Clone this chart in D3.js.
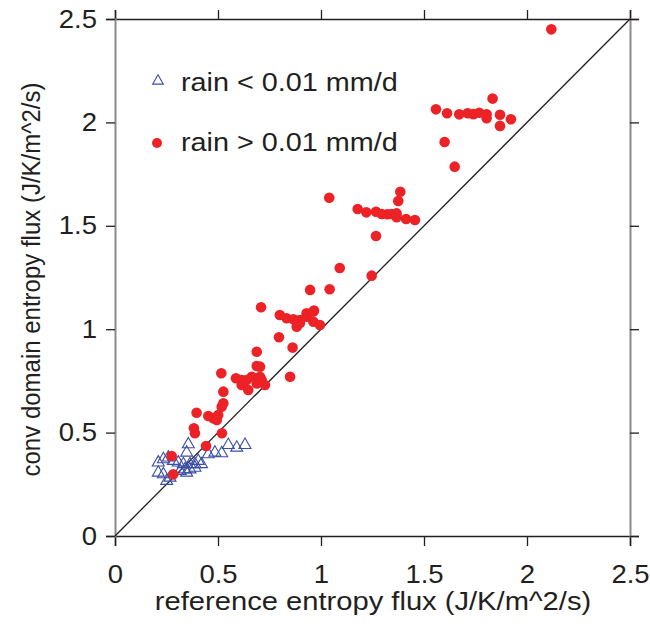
<!DOCTYPE html>
<html>
<head>
<meta charset="utf-8">
<script src="https://cdn.jsdelivr.net/npm/d3@7"></script>
<style>
  body { margin: 0; background: #fff; }
  text { font-family: "Liberation Sans", Arial, sans-serif; fill: #231f20; }
</style>
</head>
<body>
<div id="chart"></div>
<script>
// rain < 0.01 mm/d (triangles)
var dryX = [0.356, 0.55, 0.631, 0.591, 0.485, 0.518, 0.453, 0.348, 0.21, 0.235, 0.259, 0.283, 0.307,
            0.332, 0.364, 0.388, 0.404, 0.42, 0.21, 0.235, 0.267, 0.251, 0.316, 0.34, 0.364, 0.388, 0.348];
var dryY = [0.448, 0.445, 0.445, 0.432, 0.408, 0.405, 0.40, 0.408, 0.36, 0.376, 0.384, 0.368, 0.36,
            0.352, 0.352, 0.352, 0.368, 0.352, 0.311, 0.303, 0.287, 0.271, 0.319, 0.327, 0.327, 0.335, 0.311];

// rain > 0.01 mm/d (dots)
var wetX = [2.118, 1.833, 1.60, 1.649, 1.558, 1.612, 1.671, 1.712, 1.74, 1.768, 1.804, 1.804, 1.869, 1.869, 1.922,
            1.04, 1.385, 1.375, 1.178, 1.22, 1.267, 1.295, 1.322, 1.343, 1.367, 1.367, 1.413, 1.456, 1.267,
            1.091, 1.246, 0.947, 1.042, 0.966, 0.93, 0.898, 0.963, 0.995,
            0.709, 0.80, 0.833, 0.866, 0.898, 0.93, 0.963, 0.882, 0.796, 0.862, 0.688, 0.688, 0.704, 0.516, 0.85,
            0.587, 0.615, 0.664, 0.704, 0.712, 0.615, 0.647, 0.728, 0.688, 0.639,
            0.526, 0.526, 0.518, 0.396, 0.453, 0.477, 0.501, 0.494, 0.383, 0.388, 0.519, 0.442, 0.275, 0.283];
var wetY = [2.45, 2.115, 1.905, 1.786, 2.063, 2.044, 2.039, 2.044, 2.04, 2.047, 2.039, 2.02, 2.037, 1.983, 2.015,
            1.636, 1.665, 1.62, 1.581, 1.565, 1.568, 1.557, 1.556, 1.557, 1.56, 1.541, 1.533, 1.528, 1.451,
            1.296, 1.259, 1.19, 1.193, 1.09, 1.06, 1.03, 1.036, 1.02,
            1.106, 1.069, 1.053, 1.048, 1.044, 1.077, 1.085, 1.012, 0.961, 0.911, 0.891, 0.822, 0.819, 0.787, 0.77,
            0.763, 0.754, 0.77, 0.77, 0.754, 0.73, 0.706, 0.73, 0.738, 0.754,
            0.698, 0.642, 0.625, 0.596, 0.58, 0.569, 0.585, 0.561, 0.521, 0.497, 0.497, 0.435, 0.387, 0.298];

var ticks = [0, 0.5, 1, 1.5, 2, 2.5];
var legendLabels = ["rain < 0.01 mm/d", "rain > 0.01 mm/d"];

var margin = { top: 19, left: 115, right: 20, bottom: 91 },
    width = 650, height = 627,
    innerW = width - margin.left - margin.right,
    innerH = height - margin.top - margin.bottom,
    stretch = 1.1;   // the reference type is a bit wider than it is tall

var svg = d3.select("#chart").append("svg")
    .attr("width", width)
    .attr("height", height);

var g = svg.append("g")
    .attr("transform", "translate(" + margin.left + "," + margin.top + ")");

var xScale = d3.scaleLinear().domain([0, 2.5]).range([0, innerW]);
var yScale = d3.scaleLinear().domain([0, 2.5]).range([innerH, 0]);

var fmt = function(d){ return d3.format("")(d); };

// axes on all four sides, ticks outward
var xAxisB = d3.axisBottom(xScale).tickValues(ticks).tickSize(10).tickPadding(19).tickFormat(fmt);
var xAxisT = d3.axisTop(xScale).tickValues(ticks).tickSize(9).tickFormat("");
var yAxisL = d3.axisLeft(yScale).tickValues(ticks).tickSize(9).tickFormat(fmt);
var yAxisR = d3.axisRight(yScale).tickValues(ticks).tickSize(9).tickFormat("");

function styleAxis(sel, lineColor, lineW){
  sel.select(".domain").attr("stroke", lineColor).attr("stroke-width", lineW);
  sel.selectAll(".tick line").attr("stroke", "#231f20").attr("stroke-width", 1.3);
  sel.selectAll(".tick text").style("font-size", "25px").attr("fill", "#231f20")
     .style("font-family", "'Liberation Sans', Arial, sans-serif")
     .attr("transform", "scale(" + stretch + ",1)");
}

g.append("g").attr("transform", "translate(0," + innerH + ")").call(xAxisB)
  .call(styleAxis, "#231f20", 1.5);
g.append("g").call(xAxisT).call(styleAxis, "#231f20", 1.5);
g.append("g").call(yAxisL).call(styleAxis, "#8a8a8a", 2)
  .selectAll(".tick text").attr("x", -18 / stretch);
g.append("g").attr("transform", "translate(" + innerW + ",0)").call(yAxisR)
  .call(styleAxis, "#8a8a8a", 2);

// 1:1 line
g.append("line")
  .attr("x1", xScale(0)).attr("y1", yScale(0))
  .attr("x2", xScale(2.5)).attr("y2", yScale(2.5))
  .attr("stroke", "#231f20").attr("stroke-width", 1.3);

var tri = d3.symbol().type(d3.symbolTriangle).size(62);
var blue = "#3b4ea6", red = "#ec2227";

var dry = dryX.map(function(d, i){ return { x: d, y: dryY[i] }; });
var wet = wetX.map(function(d, i){ return { x: d, y: wetY[i] }; });

g.selectAll(".dry").data(dry).enter().append("path")
  .attr("class", "dry")
  .attr("d", tri)
  .attr("transform", function(d){ return "translate(" + xScale(d.x) + "," + (yScale(d.y) + 1) + ")"; })
  .attr("fill", "none")
  .attr("stroke", blue)
  .attr("stroke-width", 1.1);

g.selectAll(".wet").data(wet).enter().append("circle")
  .attr("class", "wet")
  .attr("cx", function(d){ return xScale(d.x); })
  .attr("cy", function(d){ return yScale(d.y); })
  .attr("r", 5.3)
  .attr("fill", red);

// stretched text helper
function label(parent, x, y, size, sx, txt, anchor, rot){
  return parent.append("text")
    .attr("transform", "translate(" + x + "," + y + ") scale(" + sx + ",1)" + (rot ? " rotate(" + rot + ")" : ""))
    .style("font-size", size + "px")
    .style("text-anchor", anchor || "start")
    .text(txt);
}

// legend
var leg = svg.append("g");
leg.append("path").attr("d", d3.symbol().type(d3.symbolTriangle).size(50))
  .attr("transform", "translate(158,81)")
  .attr("fill", "none").attr("stroke", blue).attr("stroke-width", 1.1);
label(leg, 181, 91, 25.5, 1.13, legendLabels[0]);
leg.append("circle").attr("cx", 157).attr("cy", 143).attr("r", 5).attr("fill", red);
label(leg, 181, 151, 25.5, 1.13, legendLabels[1]);

// axis titles
label(svg, 373, 610, 26.5, stretch, "reference entropy flux (J/K/m^2/s)", "middle");
label(svg, 40, margin.top + innerH / 2 + 2, 24, stretch, "conv domain entropy flux (J/K/m^2/s)", "middle", -90);
</script>
</body>
</html>
